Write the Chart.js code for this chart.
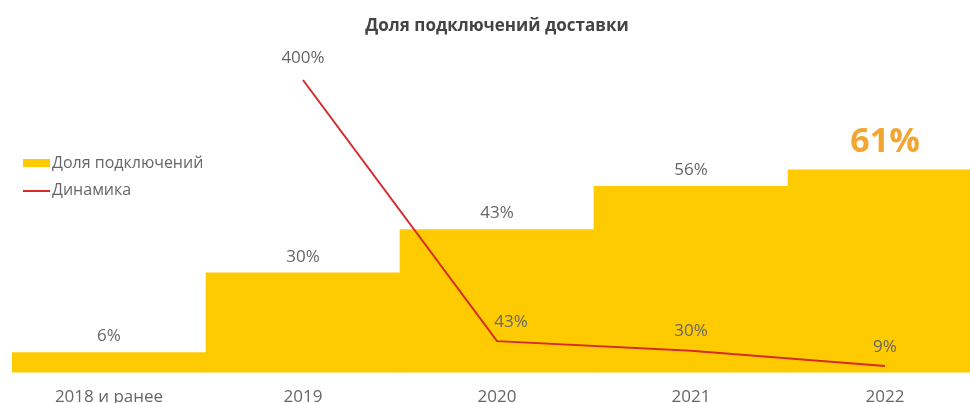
<!DOCTYPE html>
<html>
<head>
<meta charset="utf-8">
<script src="https://cdn.jsdelivr.net/npm/chart.js@4/dist/chart.umd.min.js"></script>
<style>
html,body{margin:0;padding:0;background:#fff;overflow:hidden;width:970px;height:403px;}
#wrap{position:relative;width:982px;height:426px;}
</style>
</head>
<body>
<div id="wrap"><canvas id="c" width="982" height="426"></canvas></div>
<script>
const categories = ['2018 и ранее', '2019', '2020', '2021', '2022'];
const shareValues = [6, 30, 43, 56, 61];
const dynamicsValues = [null, 400, 43, 30, 9];
const titleText = 'Доля подключений доставки';
const seriesNames = ['Доля подключений', 'Динамика'];

const YELLOW = '#FECB00';
const RED = '#D62B2B';
const GREY = '#666666';
const FONT = "'Open Sans', 'DejaVu Sans', sans-serif";

const labelsPlugin = {
  id: 'labelsPlugin',
  afterDatasetsDraw(chart) {
    const ctx = chart.ctx;
    ctx.save();
    ctx.textAlign = 'center';
    ctx.textBaseline = 'middle';
    const barMeta = chart.getDatasetMeta(0);
    barMeta.data.forEach((el, i) => {
      const last = i === shareValues.length - 1;
      if (last) {
        ctx.font = "bold 34px " + FONT;
        ctx.fillStyle = '#F2A531';
        ctx.fillText(shareValues[i] + '%', el.x, el.y - 27);
      } else {
        ctx.font = "17px " + FONT;
        ctx.fillStyle = GREY;
        ctx.fillText(shareValues[i] + '%', el.x, el.y - 16);
      }
    });
    const lineMeta = chart.getDatasetMeta(1);
    lineMeta.data.forEach((el, i) => {
      const v = dynamicsValues[i];
      if (v === null || v === undefined) return;
      ctx.font = "17px " + FONT;
      ctx.fillStyle = GREY;
      const dx = (i === 2) ? 14 : 0;
      const dy = (i === 1) ? -22 : -19;
      ctx.fillText(v + '%', el.x + dx, el.y + dy);
    });
    ctx.textAlign = 'left';
    ctx.font = "16px " + FONT;
    ctx.fillStyle = YELLOW;
    ctx.fillRect(23, 159, 27, 8);
    ctx.fillStyle = GREY;
    ctx.fillText(seriesNames[0], 52, 163);
    ctx.strokeStyle = RED;
    ctx.lineWidth = 2;
    ctx.beginPath();
    ctx.moveTo(23, 191);
    ctx.lineTo(50, 191);
    ctx.stroke();
    ctx.fillStyle = GREY;
    ctx.fillText(seriesNames[1], 52, 190);
    ctx.restore();
  }
};

new Chart(document.getElementById('c'), {
  data: {
    labels: categories,
    datasets: [
      {
        type: 'bar',
        label: seriesNames[0],
        data: shareValues,
        backgroundColor: YELLOW,
        borderWidth: 0,
        barPercentage: 1,
        categoryPercentage: 1,
        yAxisID: 'y',
        order: 1
      },
      {
        type: 'line',
        label: seriesNames[1],
        data: dynamicsValues,
        borderColor: RED,
        borderWidth: 2,
        pointRadius: 0,
        tension: 0,
        fill: false,
        yAxisID: 'y1',
        order: 0,
        clip: 10
      }
    ]
  },
  options: {
    responsive: false,
    animation: false,
    layout: { padding: { left: 12, right: 0, top: 0, bottom: 5 } },
    plugins: {
      legend: { display: false },
      tooltip: { enabled: false },
      title: {
        display: true,
        text: titleText,
        color: '#444444',
        font: { family: FONT, size: 17, weight: 'bold', lineHeight: 1.2 },
        padding: { top: 16, bottom: 43.6 }
      }
    },
    scales: {
      x: {
        offset: true,
        grid: { display: false, drawTicks: false },
        border: { display: false },
        ticks: { color: GREY, font: { family: FONT, size: 17, lineHeight: 1.2 }, padding: 14, maxRotation: 0 }
      },
      y: { display: false, min: 0, max: 88 },
      y1: { display: false, min: 0, max: 400 }
    }
  },
  plugins: [labelsPlugin]
});
</script>
</body>
</html>
